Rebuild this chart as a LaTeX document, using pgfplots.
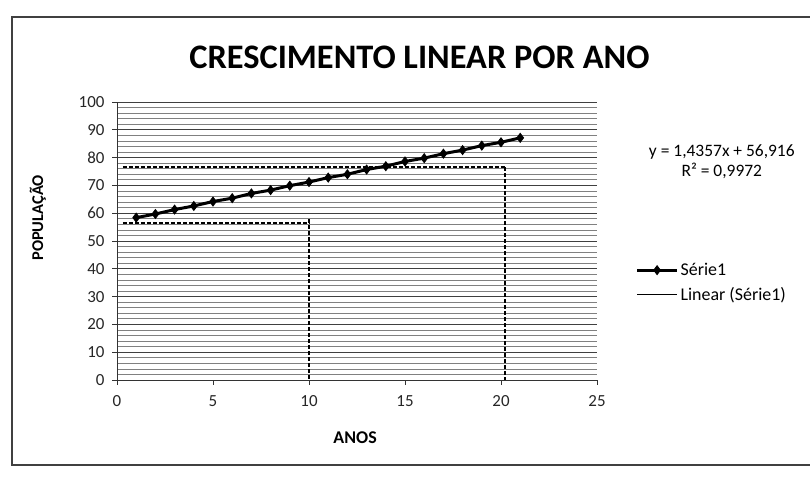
\documentclass[border=0pt]{standalone}
\usepackage{fontspec}
\setmainfont{Carlito}
\usepackage{pgfplots}
\pgfplotsset{compat=1.18}

\begin{document}
\begin{tikzpicture}[x=1bp,y=1bp]
\useasboundingbox (0,0) rectangle (810,477);
\fill[white] (0,0) rectangle (810,477);
% chart frame (right side cut off in the scan)
\draw[line width=1.2bp, black!75] (810,460) -- (12,460) -- (12,12) -- (810,12);

\begin{axis}[
    at={(117bp,97bp)}, anchor=south west,
    scale only axis, width=480bp, height=278bp,
    xmin=0, xmax=25, ymin=0, ymax=100,
    xtick={0,5,...,25}, ytick={0,10,...,100},
    minor y tick num=4,
    axis x line*=bottom, axis y line*=left,
    x axis line style={-, black!80, line width=0.9bp},
    y axis line style={-, black!80, line width=0.9bp},
    ymajorgrids, yminorgrids,
    major grid style={black!75, line width=0.8bp},
    minor grid style={black!50, line width=0.7bp},
    tick align=outside, major tick length=5bp, minor tick length=0pt,
    tick style={black!80, line width=0.8bp},
    /pgf/number format/assume math mode=true,
    ticklabel style={font=\fontsize{17}{19}\selectfont, black!85},
    xticklabel style={yshift=-7bp},
    yticklabel style={xshift=-4bp},
    title={\textbf{CRESCIMENTO LINEAR POR ANO}},
    title style={font=\fontsize{34.5}{38}\selectfont, at={(axis description cs:0.63,1.14)}, anchor=center},
    xlabel={\textbf{ANOS}},
    xlabel style={font=\fontsize{18}{20}\selectfont, at={(axis description cs:0.496,-0.207)}, anchor=center},
    ylabel={\textbf{POPULAÇÃO}},
    ylabel style={font=\fontsize{16.5}{18}\selectfont, at={(axis description cs:-0.165,0.583)}, anchor=center},
    legend style={at={(axis description cs:1.08,0.435)}, anchor=north west,
        draw=none, fill=none, font=\fontsize{18}{20}\selectfont,
        row sep=6bp, inner xsep=0pt},
    legend cell align=left,
    legend image code/.code={\draw[#1] (0bp,0bp) -- (20bp,0bp) plot coordinates {(20bp,0bp)} -- (40bp,0bp);},
    clip=false,
]

% Série1
\addplot[black, line width=3bp, mark=diamond*, mark size=4.5bp,
    mark options={solid, fill=black, line width=0.8bp}]
    coordinates {
    (1,58.4) (2,59.7) (3,61.3) (4,62.6) (5,64.2) (6,65.4) (7,67.1)
    (8,68.3) (9,69.9) (10,71.2) (11,72.8) (12,74.0) (13,75.7) (14,76.9)
    (15,78.6) (16,79.8) (17,81.4) (18,82.7) (19,84.3) (20,85.5) (21,87.1)
    };
\addlegendentry{Série1}

% Linear (Série1)
\addplot[black, line width=0.7bp] coordinates {(1,58.35) (21,87.07)};
\addlegendentry{Linear (Série1)}

% dashed reading lines
\addplot[black, dash pattern=on 4bp off 2bp, line width=2bp, forget plot] coordinates {(0.3,56.5) (10,56.5)};
\addplot[black, dash pattern=on 4bp off 2bp, line width=2bp, forget plot] coordinates {(10,58) (10,0)};
\addplot[black, dash pattern=on 4bp off 2bp, line width=1.8bp, forget plot] coordinates {(0.3,76.5) (20.2,76.5)};
\addplot[black, dash pattern=on 4bp off 2bp, line width=2bp, forget plot] coordinates {(20.2,76.5) (20.2,0)};

\node[font=\fontsize{17.5}{19}\selectfont, align=center, anchor=center]
    at (axis description cs:1.26,0.784)
    {y = 1,4357x + 56,916\\[1bp] R² = 0,9972};
\end{axis}
\end{tikzpicture}
\end{document}
